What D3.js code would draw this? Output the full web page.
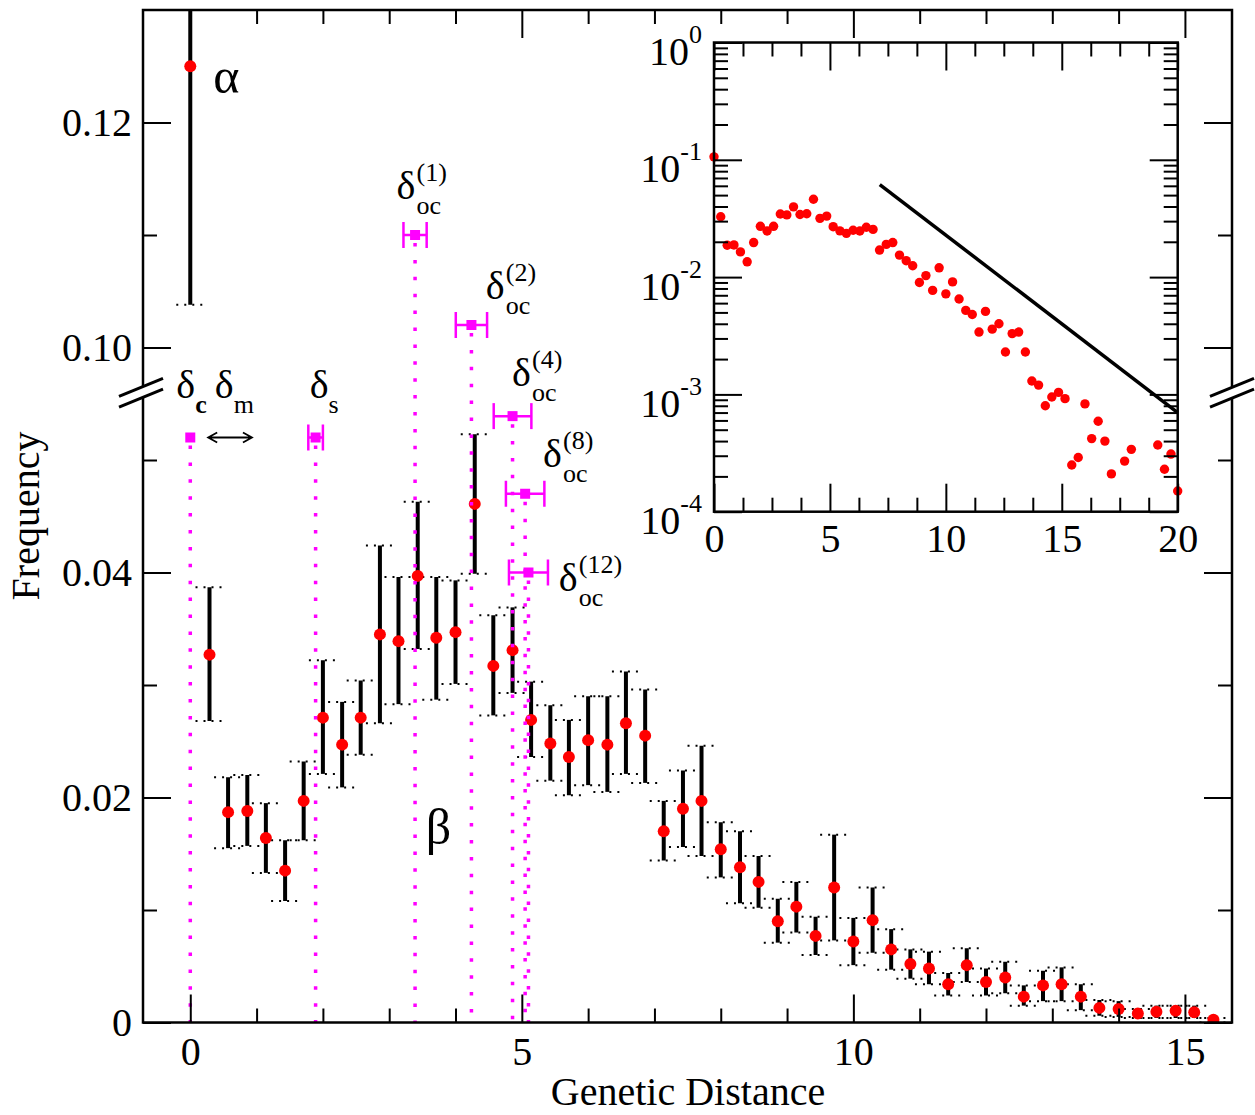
<!DOCTYPE html>
<html>
<head>
<meta charset="utf-8">
<script src="https://cdn.jsdelivr.net/npm/d3@7"></script>
<style>
  body { margin: 0; background: #fff; }
  svg text { font-family: "Liberation Serif", "Times New Roman", serif; }
</style>
</head>
<body>
<svg id="chart" width="1255" height="1115"></svg>
<script>
// distancia genética de cada bin (panel principal)
const distance = [0, 0.29, 0.57, 0.86, 1.14, 1.43, 1.71, 2.0, 2.29, 2.57,
  2.86, 3.14, 3.43, 3.71, 4.0, 4.29, 4.57, 4.86, 5.14, 5.43,
  5.71, 6.0, 6.29, 6.57, 6.86, 7.14, 7.43, 7.71, 8.0, 8.29,
  8.57, 8.86, 9.14, 9.43, 9.71, 10.0, 10.29, 10.57, 10.86, 11.14,
  11.43, 11.71, 12.0, 12.29, 12.57, 12.86, 13.14, 13.43, 13.71, 14.0,
  14.29, 14.57, 14.86, 15.14, 15.43];

const freq = [0.125, 0.0327, 0.0187, 0.0188, 0.0164, 0.0135, 0.0197, 0.0271, 0.0247, 0.0271,
  0.0345, 0.0339, 0.0397, 0.0342, 0.0347, 0.0461, 0.0317, 0.0331, 0.0269, 0.0248,
  0.0236, 0.0251, 0.0247, 0.0266, 0.0255, 0.0170, 0.0190, 0.0197, 0.0154, 0.0138,
  0.0125, 0.0090, 0.0103, 0.0077, 0.0120, 0.0072, 0.0091, 0.0065, 0.0052, 0.0048,
  0.0034, 0.0051, 0.0036, 0.0040, 0.0023, 0.0033, 0.0034, 0.0023, 0.0013, 0.0012,
  0.0008, 0.00095, 0.00104, 0.00092, 0.00025];

const errLow = [0.1038, 0.0268, 0.0155, 0.0157, 0.0133, 0.0108, 0.0162, 0.0221, 0.0209, 0.0238,
  0.0266, 0.0283, 0.0332, 0.0287, 0.0301, 0.0399, 0.0273, 0.0293, 0.0236, 0.0215,
  0.0202, 0.0211, 0.0205, 0.0221, 0.0213, 0.0144, 0.0156, 0.0148, 0.0129, 0.0106,
  0.0102, 0.0071, 0.0080, 0.0060, 0.0073, 0.0051, 0.0062, 0.0047, 0.0039, 0.0034,
  0.0024, 0.0036, 0.0024, 0.0026, 0.0015, 0.0019, 0.0019, 0.0011, 0.0006, 0.0005,
  0.0004, 0.0004, 0.0004, 0.0004, 0.0000];

const errHigh = [0.1462, 0.0387, 0.0218, 0.0220, 0.0195, 0.0162, 0.0232, 0.0322, 0.0285, 0.0304,
  0.0424, 0.0396, 0.0463, 0.0396, 0.0393, 0.0523, 0.0362, 0.0369, 0.0303, 0.0282,
  0.0269, 0.0290, 0.0290, 0.0312, 0.0296, 0.0197, 0.0224, 0.0246, 0.0178, 0.0170,
  0.0148, 0.0110, 0.0125, 0.0094, 0.0167, 0.0093, 0.0120, 0.0083, 0.0065, 0.0063,
  0.0044, 0.0066, 0.0048, 0.0054, 0.0033, 0.0046, 0.0049, 0.0034, 0.0020, 0.0019,
  0.0012, 0.0015, 0.0015, 0.0015, 0.0004];

// umbrales delta (marcadores magenta)
const deltaX = [0, 1.89, 3.39, 4.24, 4.86, 5.05, 5.10];
const deltaY = [0.0520, 0.0520, 0.1100, 0.1020, 0.0539, 0.0470, 0.0400];
const deltaErr = [0, 0.11, 0.175, 0.236, 0.284, 0.29, 0.294];

// recuadro (escala log): cola mas alla de 15.4
const insetAlpha = 0.106;
const tailX = [15.71, 16.0, 16.29, 16.57, 16.86, 17.14, 17.71, 18.0, 19.14, 19.43, 19.71, 20.0];
const tailFreq = [0.00029, 0.00083, 0.00042, 0.00059, 0.00040, 0.00021, 0.00027, 0.00034, 0.00037, 0.00023, 0.00031, 0.00015];
const fitX = [7.15, 20];
const fitY = [0.0615, 0.0007];

// ticks
const xMajor = [0, 5, 10, 15];
const yLowTicks = [0, 0.02, 0.04];
const yHighTicks = [0.10, 0.12];
const yLowMinor = [0.01, 0.03, 0.05];
const yHighMinor = [0.11];
const insetXTicks = [0, 5, 10, 15, 20];
const insetYTicks = [1e-4, 1e-3, 1e-2, 1e-1, 1];
const insetYLabels = ['-4', '-3', '-2', '-1', '0'];

const W = 1255, H = 1115;
const plot = { left: 143, right: 1232, top: 10, bottom: 1022.5 };
const yBreak = 390.25;
const serif = '"Liberation Serif", "Times New Roman", serif';

const x = d3.scaleLinear().domain([-0.713, 15.71]).range([plot.left, plot.right]);
const yLow = d3.scaleLinear().domain([0, 0.0562]).range([plot.bottom, yBreak]);
const yHigh = d3.scaleLinear().domain([0.0962, 0.13]).range([yBreak, plot.top]);
const y = v => (v > 0.08 ? yHigh(v) : yLow(v));

const svg = d3.select('#chart');
svg.append('rect').attr('width', W).attr('height', H).attr('fill', '#fff');

svg.append('defs').append('clipPath').attr('id', 'clip-main')
  .append('rect')
  .attr('x', plot.left).attr('y', plot.top)
  .attr('width', plot.right - plot.left).attr('height', plot.bottom - plot.top);

const main = svg.append('g').attr('clip-path', 'url(#clip-main)');

const bins = distance.map((d, i) => ({ x: d, f: freq[i], lo: errLow[i], hi: errHigh[i] }));

// barras de error
main.selectAll('.bar')
  .data(bins)
  .enter()
  .append('line')
  .attr('x1', d => x(d.x)).attr('x2', d => x(d.x))
  .attr('y1', d => y(d.lo)).attr('y2', d => y(d.hi))
  .attr('stroke', '#000').attr('stroke-width', 4);

const caps = bins.flatMap(d => [{ x: d.x, v: d.lo }, { x: d.x, v: d.hi }]);
main.selectAll('.cap')
  .data(caps)
  .enter()
  .append('line')
  .attr('x1', d => x(d.x) - 14).attr('x2', d => x(d.x) + 14)
  .attr('y1', d => y(d.v)).attr('y2', d => y(d.v))
  .attr('stroke', '#000').attr('stroke-width', 2).attr('stroke-dasharray', '2,6');

main.selectAll('.pt')
  .data(bins)
  .enter()
  .append('circle')
  .attr('cx', d => x(d.x)).attr('cy', d => y(d.f))
  .attr('r', 6).attr('fill', '#ff0000');

// lineas magenta
const marks = deltaX.map((d, i) => ({ x: d, v: deltaY[i], e: deltaErr[i] }));
const magenta = '#ff00ff';

main.selectAll('.vline')
  .data(marks)
  .enter()
  .append('line')
  .attr('x1', d => x(d.x)).attr('x2', d => x(d.x))
  .attr('y1', d => y(d.v) + 8).attr('y2', plot.bottom)
  .attr('stroke', magenta).attr('stroke-width', 3.5).attr('stroke-dasharray', '3.5,13.4');

const withErr = marks.filter(d => d.e > 0);
main.selectAll('.hbar')
  .data(withErr)
  .enter()
  .append('line')
  .attr('x1', d => x(d.x - d.e)).attr('x2', d => x(d.x + d.e))
  .attr('y1', d => y(d.v)).attr('y2', d => y(d.v))
  .attr('stroke', magenta).attr('stroke-width', 2.5);

const hcaps = withErr.flatMap(d => [{ x: d.x - d.e, v: d.v }, { x: d.x + d.e, v: d.v }]);
main.selectAll('.hcap')
  .data(hcaps)
  .enter()
  .append('line')
  .attr('x1', d => x(d.x)).attr('x2', d => x(d.x))
  .attr('y1', d => y(d.v) - 13).attr('y2', d => y(d.v) + 13)
  .attr('stroke', magenta).attr('stroke-width', 2.5);

main.selectAll('.sq')
  .data(marks)
  .enter()
  .append('rect')
  .attr('x', d => x(d.x) - 5).attr('y', d => y(d.v) - 5)
  .attr('width', 10).attr('height', 10)
  .attr('fill', magenta);

// etiquetas
const greek = [
  { t: 'α', x: 0.347, v: 0.1226 },
  { t: 'β', x: 3.55, v: 0.0159 }
];
svg.selectAll('.greek')
  .data(greek)
  .enter()
  .append('text')
  .attr('x', d => x(d.x)).attr('y', d => y(d.v))
  .attr('font-size', 50)
  .text(d => d.t);

const simpleDeltas = [
  { sub: 'c', bold: true, x: -0.21, v: 0.0555 },
  { sub: 'm', x: 0.37, v: 0.0555 },
  { sub: 's', x: 1.80, v: 0.0555 }
];
simpleDeltas.forEach(d => {
  const t = svg.append('text')
    .attr('x', x(d.x)).attr('y', y(d.v))
    .attr('font-size', 40)
    .text('δ');
  t.append('tspan')
    .attr('dy', 15).attr('font-size', 26)
    .attr('font-weight', d.bold ? 'bold' : 'normal')
    .text(d.sub);
});

const ocDeltas = [
  { sup: '(1)', x: 3.11, v: 0.1132 },
  { sup: '(2)', x: 4.457, v: 0.1043 },
  { sup: '(4)', x: 4.853, v: 0.0966 },
  { sup: '(8)', x: 5.32, v: 0.0494 },
  { sup: '(12)', x: 5.557, v: 0.0384 }
];
ocDeltas.forEach(d => {
  const px = x(d.x), py = y(d.v);
  svg.append('text').attr('x', px).attr('y', py).attr('font-size', 40).text('δ');
  svg.append('text').attr('x', px + 20).attr('y', py - 18).attr('font-size', 26).text(d.sup);
  svg.append('text').attr('x', px + 20).attr('y', py + 15).attr('font-size', 26).text('oc');
});

// flecha doble entre delta_c y delta_m
const arrowSpan = [0.27, 0.93];
const arrowV = 0.0520;
const ax0 = x(arrowSpan[0]), ax1 = x(arrowSpan[1]), ay = y(arrowV);
svg.append('path')
  .attr('d', `M${ax0},${ay}H${ax1}M${ax0 + 9},${ay - 5}L${ax0},${ay}L${ax0 + 9},${ay + 5}` +
    `M${ax1 - 9},${ay - 5}L${ax1},${ay}L${ax1 - 9},${ay + 5}`)
  .attr('fill', 'none').attr('stroke', '#000').attr('stroke-width', 1.8);

// ejes
function styleAxis(g) {
  g.select('.domain').remove();
  g.attr('font-family', serif).attr('font-size', 40);
  g.selectAll('line').attr('stroke-width', 2);
  g.selectAll('text').attr('fill', '#000');
}
const xMinor = d3.range(0, 16).filter(v => v % 5 !== 0);
const fmtY = d => (d === 0 ? '0' : d.toFixed(2));

svg.append('g').attr('transform', `translate(0,${plot.bottom})`)
  .call(d3.axisBottom(x).tickValues(xMajor).tickSize(-28).tickPadding(14).tickFormat(d3.format('d')))
  .call(styleAxis);
svg.append('g').attr('transform', `translate(0,${plot.bottom})`)
  .call(d3.axisBottom(x).tickValues(xMinor).tickSize(-14).tickFormat(''))
  .call(styleAxis);
svg.append('g').attr('transform', `translate(0,${plot.top})`)
  .call(d3.axisTop(x).tickValues(xMajor).tickSize(-28).tickFormat(''))
  .call(styleAxis);
svg.append('g').attr('transform', `translate(0,${plot.top})`)
  .call(d3.axisTop(x).tickValues(xMinor).tickSize(-14).tickFormat(''))
  .call(styleAxis);

[[yLow, yLowTicks, yLowMinor], [yHigh, yHighTicks, yHighMinor]].forEach(([sc, major, minor]) => {
  svg.append('g').attr('transform', `translate(${plot.left},0)`)
    .call(d3.axisLeft(sc).tickValues(major).tickSize(-28).tickPadding(11).tickFormat(fmtY))
    .call(styleAxis);
  svg.append('g').attr('transform', `translate(${plot.left},0)`)
    .call(d3.axisLeft(sc).tickValues(minor).tickSize(-14).tickFormat(''))
    .call(styleAxis);
  svg.append('g').attr('transform', `translate(${plot.right},0)`)
    .call(d3.axisRight(sc).tickValues(major).tickSize(-28).tickFormat(''))
    .call(styleAxis);
  svg.append('g').attr('transform', `translate(${plot.right},0)`)
    .call(d3.axisRight(sc).tickValues(minor).tickSize(-14).tickFormat(''))
    .call(styleAxis);
});

svg.append('rect')
  .attr('x', plot.left).attr('y', plot.top)
  .attr('width', plot.right - plot.left).attr('height', plot.bottom - plot.top)
  .attr('fill', 'none').attr('stroke', '#000').attr('stroke-width', 2.5);

// marcas de corte del eje
[plot.left - 2, plot.right].forEach(cx => {
  const cy = yBreak + 2.5;
  svg.append('path')
    .attr('d', `M${cx - 22},${cy + 4}L${cx + 22},${cy - 14}L${cx + 22},${cy - 4}L${cx - 22},${cy + 14}Z`)
    .attr('fill', '#fff');
  [-5.3, 5.3].forEach(o => {
    svg.append('line')
      .attr('x1', cx - 22).attr('y1', cy + o + 9)
      .attr('x2', cx + 22).attr('y2', cy + o - 9)
      .attr('stroke', '#000').attr('stroke-width', 3);
  });
});

svg.append('text')
  .attr('transform', 'translate(38.5,516) rotate(-90)')
  .attr('text-anchor', 'middle').attr('font-size', 40)
  .text('Frequency');
svg.append('text')
  .attr('x', 688).attr('y', 1104.5)
  .attr('text-anchor', 'middle').attr('font-size', 40)
  .text('Genetic Distance');

// recuadro log-lineal
const inset = { left: 714, right: 1177.7, top: 42.5, bottom: 511.7 };
const xi = d3.scaleLinear().domain([0, 20]).range([inset.left, inset.right]);
const yi = d3.scaleLog().domain([1e-4, 1]).range([inset.bottom, inset.top]);

const insetX = distance.concat(tailX);
const insetFreq = [insetAlpha].concat(freq.slice(1), tailFreq);
const insetPts = insetX.map((d, i) => ({ x: d, f: insetFreq[i] }));

const ig = svg.append('g');
ig.append('rect')
  .attr('x', inset.left).attr('y', inset.top)
  .attr('width', inset.right - inset.left).attr('height', inset.bottom - inset.top)
  .attr('fill', '#fff');

ig.selectAll('.ipt')
  .data(insetPts)
  .enter()
  .append('circle')
  .attr('cx', d => xi(d.x)).attr('cy', d => yi(d.f))
  .attr('r', 4.7).attr('fill', '#ff0000');

const fit = fitX.map((d, i) => ({ x: d, f: fitY[i] }));
ig.append('path')
  .datum(fit)
  .attr('d', d3.line().x(d => xi(d.x)).y(d => yi(d.f)))
  .attr('fill', 'none').attr('stroke', '#000').attr('stroke-width', 3.5);

const ixMinor = d3.range(0, 20.01, 1.25).filter(v => v % 5 !== 0);
const iyMinor = [];
[1e-4, 1e-3, 1e-2, 1e-1].forEach(p => d3.range(2, 10).forEach(k => iyMinor.push(k * p)));

ig.append('g').attr('transform', `translate(0,${inset.bottom})`)
  .call(d3.axisBottom(xi).tickValues(insetXTicks).tickSize(-28).tickPadding(11.5).tickFormat(d3.format('d')))
  .call(styleAxis);
ig.append('g').attr('transform', `translate(0,${inset.bottom})`)
  .call(d3.axisBottom(xi).tickValues(ixMinor).tickSize(-14).tickFormat(''))
  .call(styleAxis);
ig.append('g').attr('transform', `translate(0,${inset.top})`)
  .call(d3.axisTop(xi).tickValues(insetXTicks).tickSize(-28).tickFormat(''))
  .call(styleAxis);
ig.append('g').attr('transform', `translate(0,${inset.top})`)
  .call(d3.axisTop(xi).tickValues(ixMinor).tickSize(-14).tickFormat(''))
  .call(styleAxis);

const iyAxis = ig.append('g').attr('transform', `translate(${inset.left},0)`)
  .call(d3.axisLeft(yi).tickValues(insetYTicks).tickSize(-28).tickPadding(12).tickFormat(''))
  .call(styleAxis);
iyAxis.selectAll('text').each(function (d, i) {
  const t = d3.select(this).attr('dy', null).attr('y', 22).text('10');
  t.append('tspan').attr('dy', -22).attr('font-size', 26).text(insetYLabels[i]);
});
ig.append('g').attr('transform', `translate(${inset.left},0)`)
  .call(d3.axisLeft(yi).tickValues(iyMinor).tickSize(-14).tickFormat(''))
  .call(styleAxis);
ig.append('g').attr('transform', `translate(${inset.right},0)`)
  .call(d3.axisRight(yi).tickValues(insetYTicks).tickSize(-28).tickFormat(''))
  .call(styleAxis);
ig.append('g').attr('transform', `translate(${inset.right},0)`)
  .call(d3.axisRight(yi).tickValues(iyMinor).tickSize(-14).tickFormat(''))
  .call(styleAxis);

ig.append('rect')
  .attr('x', inset.left).attr('y', inset.top)
  .attr('width', inset.right - inset.left).attr('height', inset.bottom - inset.top)
  .attr('fill', 'none').attr('stroke', '#000').attr('stroke-width', 2.5);
</script>
</body>
</html>
